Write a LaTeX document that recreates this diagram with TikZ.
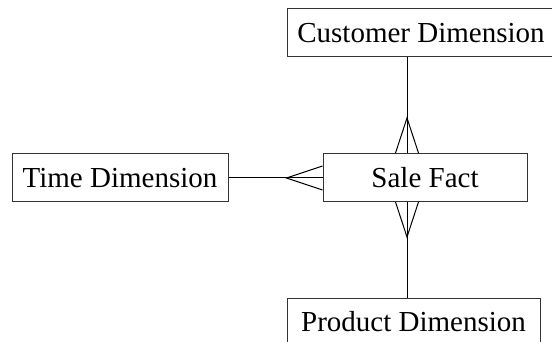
\documentclass[tikz,border=0pt]{standalone}
\usepackage{fontspec}
\setmainfont{Liberation Serif}
\begin{document}
\begin{tikzpicture}[x=1pt,y=-1pt,
  line width=1pt,
  entity/.style={draw=black!80, fill=white, inner sep=0pt,
    minimum height=48pt, font=\fontsize{29}{34}\selectfont},
  link/.style={draw=black, line width=1pt}]
  \useasboundingbox (0,0) rectangle (552,342);

  % entities
  \node[entity, minimum width=268pt] (cust) at (421,33) {Customer Dimension};
  \node[entity, minimum width=216pt] (time) at (120,178) {Time Dimension};
  \node[entity, minimum width=204pt] (sale) at (425,177.5) {Sale Fact};
  \node[entity, minimum width=253pt] (prod) at (413.5,322) {Product Dimension};

  % column of the vertical relationships
  \coordinate (col) at (407,0);

  % relationship lines
  \draw[link] (cust.south -| col) -- (sale.north -| col);
  \draw[link] (sale.south -| col) -- (prod.north -| col);
  \draw[link] (time.east) -- (sale.west |- time.east);

  % crow's feet on the fact side
  \coordinate (tn) at (sale.north -| col);
  \draw[link] ([xshift=-11.5pt]tn) -- ([yshift=35pt]tn) -- ([xshift=11.5pt]tn);
  \coordinate (ts) at (sale.south -| col);
  \draw[link] ([xshift=-11.5pt]ts) -- ([yshift=-35pt]ts) -- ([xshift=11.5pt]ts);
  \coordinate (tw) at (sale.west |- time.east);
  \draw[link] ([yshift=-12pt]tw) -- ([xshift=-36pt]tw) -- ([yshift=12pt]tw);
\end{tikzpicture}
\end{document}
